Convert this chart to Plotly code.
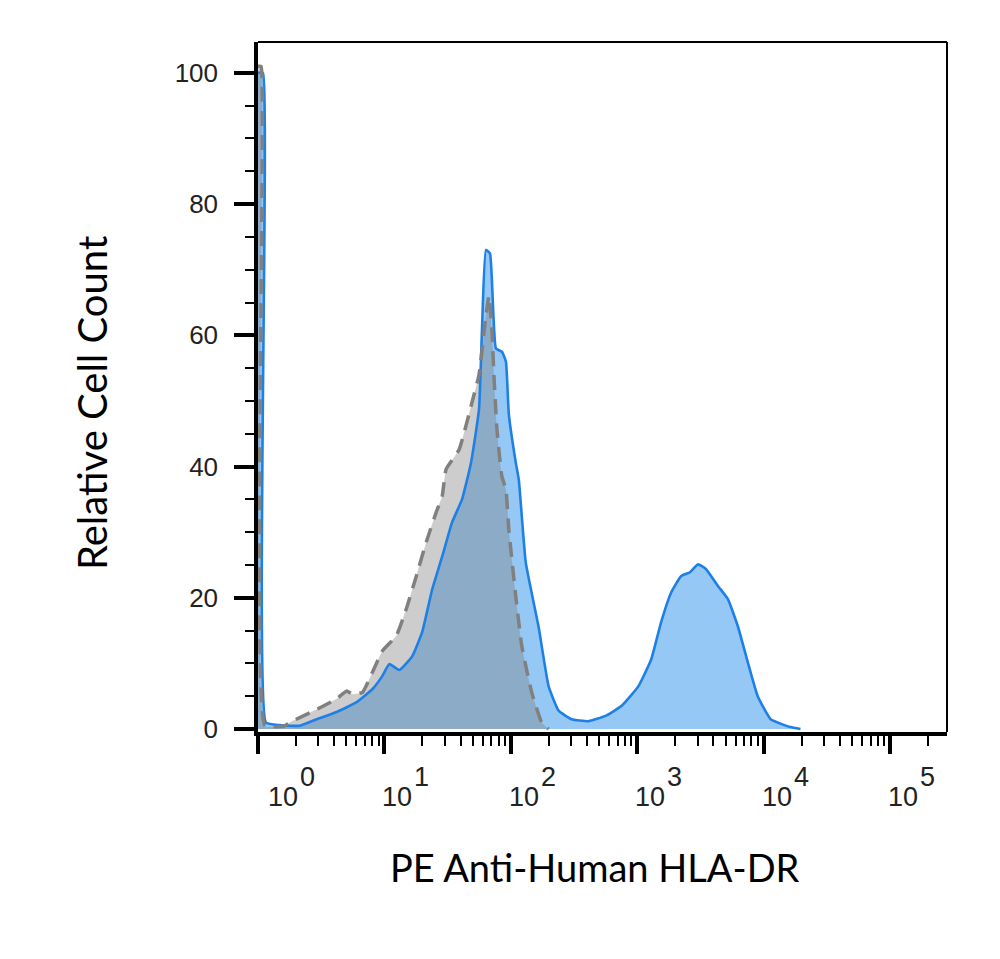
import math
import plotly.graph_objects as go

# ---- data (x = fluorescence intensity, y = relative count) ----
hla_x = [1.0, 1.094, 1.156, 1.489, 2.143, 2.917, 4.188, 6.026, 8.054, 9.638, 10.94, 13.12,
         16.60, 19.91, 23.88, 28.64, 34.28, 41.11, 48.42, 55.98, 59.16, 63.53, 68.39, 76.21,
         84.92, 91.41, 96.38, 109.4, 115.6, 131.2, 166.0, 199.1, 238.8, 302.0, 411.1, 559.8,
         748.2, 1019, 1288, 1545, 1854, 2218, 2612, 3020, 3491, 4345, 5212, 6237, 7482, 8974,
         11350, 16330, 19540]
hla_y = [100, 100, 1.0, 0.6, 0.5, 1.5, 2.6, 4.1, 6.1, 8.1, 9.9, 9.0,
         11.1, 14.8, 21.3, 26.3, 31.5, 35.0, 40.6, 48.7, 61.0, 73.0, 72.5, 58.0,
         57.5, 56.0, 48.0, 40.6, 38.0, 25.4, 15.5, 6.5, 2.8, 1.5, 1.2, 2.0,
         3.5, 6.5, 10.6, 16.3, 20.8, 23.3, 23.9, 25.1, 24.4, 21.8, 19.8, 15.7, 10.2, 5.0,
         1.5, 0.3, 0.0]

iso_x = [1.0, 1.057, 1.135, 1.633, 1.786, 2.917, 4.188, 5.023, 5.598, 6.714, 8.054, 9.638,
         12.42, 14.89, 17.86, 21.43, 25.64, 28.64, 30.76, 38.99, 49.32, 55.98, 63.53, 67.14,
         70.79, 73.45, 77.62, 84.92, 91.41, 96.38, 109.4, 122.2, 146.2, 175.4, 199.1]
iso_y = [101, 101, 0.5, 0.5, 1.0, 3.0, 4.6, 5.8, 5.3, 5.6, 8.7, 11.9,
         14.2, 18.3, 23.3, 28.5, 33.0, 35.5, 39.6, 42.6, 49.8, 54.0, 63.0, 66.0,
         61.0, 54.0, 45.7, 38.5, 36.5, 30.4, 20.2, 12.6, 5.6, 1.0, 0.0]

x_tick_vals = [1, 10, 100, 1000, 10000, 100000]
x_tick_base = "10"
x_tick_exp = ["0", "1", "2", "3", "4", "5"]
x_minor_vals = [m * d for d in [1, 10, 100, 1000, 10000, 100000] for m in range(2, 10)
                if m * d < 280000]
y_tick_vals = [0, 20, 40, 60, 80, 100]

x_title = "PE Anti-Human HLA-DR"
y_title = "Relative Cell Count"

BLUE = "rgb(30,128,230)"
BLUE_FILL = "rgb(150,200,245)"
GRAY_FILL = "rgba(124,124,124,0.38)"
GRAY_LINE = "rgb(128,128,128)"
LABEL_FONT = dict(size=27, family="Liberation Sans, Arial, sans-serif", color="#222222")
TITLE_FONT = dict(family="Lato, sans-serif", size=38, color="black")

fig = go.Figure()
fig.add_trace(go.Scatter(x=hla_x, y=hla_y, mode="lines", fill="tozeroy",
                         fillcolor=BLUE_FILL, line=dict(width=0, shape="spline", smoothing=0.4),
                         showlegend=False, hoverinfo="skip"))
fig.add_trace(go.Scatter(x=iso_x, y=iso_y, mode="lines", fill="tozeroy",
                         fillcolor=GRAY_FILL, line=dict(width=0, shape="spline", smoothing=0.4),
                         showlegend=False, hoverinfo="skip"))
fig.add_trace(go.Scatter(x=hla_x, y=hla_y, mode="lines", name="HLA-DR",
                         line=dict(color=BLUE, width=2.6, shape="spline", smoothing=0.4),
                         showlegend=False))
fig.add_trace(go.Scatter(x=iso_x, y=iso_y, mode="lines", name="Isotype",
                         line=dict(color=GRAY_LINE, width=3.5, dash="15px,9px",
                                   shape="spline", smoothing=0.4),
                         showlegend=False))

# decade labels "10" with a large raised exponent, drawn as text next to each major tick
annotations = []
for i, (v, e) in enumerate(zip(x_tick_vals, x_tick_exp)):
    dx = 25 if i == 0 else 13
    annotations.append(dict(xref="x", yref="paper", x=math.log10(v), y=0,
                            text=x_tick_base, showarrow=False, font=LABEL_FONT,
                            xanchor="center", yanchor="top", xshift=dx, yshift=-48))
    annotations.append(dict(xref="x", yref="paper", x=math.log10(v), y=0,
                            text=e, showarrow=False, font=LABEL_FONT,
                            xanchor="left", yanchor="top", xshift=dx + 15, yshift=-28))

# axis titles
annotations.append(dict(xref="paper", yref="paper", x=0.489, y=-0.1957, text=x_title,
                        showarrow=False, font=TITLE_FONT, xanchor="center", yanchor="middle"))
annotations.append(dict(xref="paper", yref="paper", x=-0.2409, y=0.4768, text=y_title,
                        showarrow=False, font=dict(TITLE_FONT, size=40), textangle=-90,
                        xanchor="center", yanchor="middle"))

fig.update_layout(
    width=992, height=951,
    margin=dict(l=250, r=53, t=34, b=227, autoexpand=False),
    paper_bgcolor="white", plot_bgcolor="white",
    font=dict(family="Liberation Sans, Arial, sans-serif", color="#222222"),
    annotations=annotations,
    shapes=[
        dict(type="line", xref="paper", yref="paper", x0=0, x1=1, y0=1, y1=1,
             line=dict(color="black", width=2)),
        dict(type="line", xref="paper", yref="paper", x0=1, x1=1, y0=0, y1=1,
             line=dict(color="black", width=2)),
    ],
)

fig.update_xaxes(
    type="log", range=[0, 5.45], showgrid=False, zeroline=False,
    showline=True, linecolor="black", linewidth=3.5,
    tickmode="array", tickvals=x_tick_vals, showticklabels=False,
    ticks="outside", ticklen=18, tickwidth=4, tickcolor="black",
    minor=dict(tickmode="array", tickvals=x_minor_vals, ticks="outside", ticklen=10,
               tickwidth=2, tickcolor="black", showgrid=False),
)
fig.update_yaxes(
    range=[-0.45, 104.7], showgrid=False, zeroline=False,
    showline=True, linecolor="black", linewidth=3.5,
    tickmode="array", tickvals=y_tick_vals,
    ticks="outside", ticklen=20, tickwidth=3.5, tickcolor="black",
    ticklabelstandoff=11,
    tickfont=dict(size=26, family="Liberation Sans, Arial, sans-serif", color="#222222"),
    minor=dict(dtick=5, tick0=0, ticks="outside", ticklen=9, tickwidth=2,
               tickcolor="black", showgrid=False),
)

fig.write_html("out.html")
